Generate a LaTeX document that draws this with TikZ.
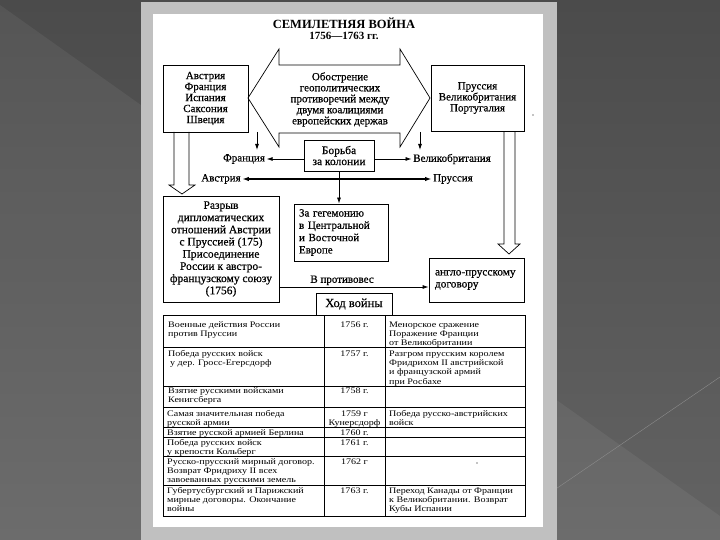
\documentclass[tikz,border=0pt]{standalone}
\usepackage{fontspec}
\setmainfont{Liberation Serif}
\newfontfamily\kastenfont[FakeBold=0.5]{Liberation Serif}
\newfontfamily\tabfont[FakeStretch=1.18]{Liberation Serif}
\usetikzlibrary{arrows.meta}
\definecolor{hgoben}{HTML}{4B4B4B}
\definecolor{hgunten}{HTML}{636363}
\definecolor{rahmen}{HTML}{C0C0C0}
\begin{document}
\begin{tikzpicture}[x=1pt, y=-1pt,
    kasten/.style={draw, line width=0.8pt, inner sep=0pt, align=center, font=\kastenfont\fontsize{11}{11}\selectfont},
    marke/.style={inner sep=1.5pt, font=\kastenfont\fontsize{11}{11}\selectfont},
    pfeil/.style={-{Latex[length=6pt,width=4pt]}, line width=0.8pt},
    linie/.style={line width=0.7pt},
    zelle/.style={anchor=north west, inner sep=0pt, align=left, font=\tabfont\fontsize{8.5}{9.3}\selectfont},
    jahr/.style={anchor=north, inner sep=0pt, align=center, font=\tabfont\fontsize{8.5}{9.3}\selectfont}]
    \useasboundingbox (0,0) rectangle (720,540);

    % Hintergrund
    \shade[top color=hgoben, bottom color=hgunten] (0,0) rectangle (720,540);
    \fill[white, opacity=0.06] (0,5) -- (720,516) -- (720,540) -- (0,540) -- cycle;
    \draw[black!45, line width=0.4pt] (500,527) -- (720,377);

    % Blatt
    \fill[rahmen] (141,2) rectangle (557,540);
    \fill[white] (153,14) rectangle (543,527);

    % Titel
    \node[font=\fontsize{12.5}{13}\selectfont\bfseries] (titel) at (344,23) {СЕМИЛЕТНЯЯ ВОЙНА};
    \node[font=\fontsize{11}{12}\selectfont\bfseries] (jahre) at (344,36) {1756---1763 гг.};

    % Koalitionen
    \node[kasten, minimum width=85, minimum height=67] (links) at (205.5,98.5) {Австрия\\Франция\\Испания\\Саксония\\Швеция};
    \node[kasten, minimum width=93, minimum height=66] (rechts) at (477.5,98) {Пруссия\\Великобритания\\Португалия};

    % Doppelpfeil
    \draw[linie] (248,98) -- (279,49) -- (279,65) -- (400,65) -- (400,49) -- (430,98)
        -- (400,147) -- (400,133) -- (279,133) -- (279,147) -- cycle;
    \node[marke, align=center] (zuspitzung) at (340,99.5) {Обострение\\геополитических\\противоречий между\\двумя коалициями\\европейских держав};

    % kleine Pfeile nach unten
    \coordinate (fA) at (257,132);
    \coordinate (fE) at (257,150);
    \coordinate (gA) at (420,132);
    \coordinate (gE) at (420,150);
    \draw[pfeil] (fA) -- (fE);
    \draw[pfeil] (gA) -- (gE);

    % Kolonien
    \node[kasten, font=\kastenfont\fontsize{11.5}{11}\selectfont, minimum width=70, minimum height=31] (kolonien) at (339,155.5) {Борьба\\за колонии};
    \node[marke] (frankreich) at (244,159) {Франция};
    \node[marke] (england) at (452,159) {Великобритания};
    \node[marke] (oesterreich) at (221,179) {Австрия};
    \node[marke] (preussen) at (453,179) {Пруссия};
    \draw[pfeil] (kolonien.west |- frankreich.east) -- (frankreich.east);
    \draw[pfeil] (kolonien.east |- england.west) -- (england.west);
    \draw[{Latex[length=6.5pt,width=4.5pt]}-{Latex[length=6.5pt,width=4.5pt]}, line width=1.3pt] (oesterreich.east) -- (preussen.west);

    % Hegemonie
    \node[kasten, align=left, text width=84, minimum width=94, minimum height=57, font=\kastenfont\fontsize{11}{12.3}\selectfont] (hegemonie) at (341,232.5) {За гегемонию\\в Центральной\\и Восточной\\Европе};
    \draw[pfeil] (kolonien.south) -- (kolonien.south |- hegemonie.north);

    % Hohlpfeile
    \draw[linie] (174,132) -- (174,185) -- (169,185) -- (182,194) -- (195,185) -- (189,185) -- (189,132);
    \draw[linie] (504,132) -- (504,244) -- (498,244) -- (509,254) -- (520,244) -- (515,244) -- (515,132);

    % Diplomatie
    \node[kasten, minimum width=116, minimum height=106, font=\kastenfont\fontsize{11.5}{12.2}\selectfont] (bruch) at (221,249) {Разрыв\\дипломатических\\отношений Австрии\\с Пруссией (175)\\Присоединение\\России к австро-\\французскому союзу\\(1756)};
    \node[kasten, align=left, text width=83, minimum width=95, minimum height=44, font=\kastenfont\fontsize{11.3}{12}\selectfont] (vertrag) at (476.5,280) {англо-прусскому\\договору};
    \coordinate (gp) at (300,287);
    \draw[pfeil] (bruch.east |- gp) -- (vertrag.west |- gp) node[pos=0.42, above, marke] {В противовес};

    % Ход войны
    \node[kasten, font=\kastenfont\fontsize{12.5}{13}\selectfont, minimum width=76, minimum height=22] (verlauf) at (354,304) {Ход войны};

    % Tabelle
    \draw[linie] (163,315) rectangle (525,516);
    \draw[linie] (324,315) -- (324,516);
    \draw[linie] (385,315) -- (385,516);
    \draw[linie] (163,347) -- (525,347);
    \draw[linie] (163,386) -- (525,386);
    \draw[linie] (163,407) -- (525,407);
    \draw[linie] (163,427) -- (525,427);
    \draw[linie] (163,437) -- (525,437);
    \draw[line width=1pt] (163,456) -- (525,456);
    \draw[line width=1pt] (163,485) -- (525,485);

    \node[zelle] (r1a) at (168,320.5) {\strut Военные действия России\\против Пруссии};
    \node[jahr] (r1b) at (354.5,320.5) {\strut 1756 г.};
    \node[zelle] (r1c) at (389,320.5) {\strut Менорское сражение\\Поражение Франции\\от Великобритании};

    \node[zelle] (r2a) at (168,349.5) {\strut Победа русских войск\\\hspace{2pt}у дер. Гросс-Егерсдорф};
    \node[jahr] (r2b) at (354.5,349.5) {\strut 1757 г.};
    \node[zelle] (r2c) at (389,349.5) {\strut Разгром прусским королем\\Фридрихом II австрийской\\и французской армий\\при Росбахе};

    \node[zelle] (r3a) at (168,386.5) {\strut Взятие русскими войсками\\Кенигсберга};
    \node[jahr] (r3b) at (354.5,386.5) {\strut 1758 г.};

    \node[zelle] (r4a) at (167,409.5) {\strut Самая значительная победа\\русской армии};
    \node[jahr] (r4b) at (354.5,409.5) {\strut 1759 г\\Кунерсдорф};
    \node[zelle] (r4c) at (389,409.5) {\strut Победа русско-австрийских\\войск};

    \node[zelle] (r5a) at (167,428.5) {\strut Взятие русской армией Берлина};
    \node[jahr] (r5b) at (354.5,428.5) {\strut 1760 г.};

    \node[zelle] (r6a) at (167,438.5) {\strut Победа русских войск\\у крепости Кольберг};
    \node[jahr] (r6b) at (354.5,438.5) {\strut 1761 г.};

    \node[zelle] (r7a) at (167,457.5) {\strut Русско-прусский мирный договор.\\Возврат Фридриху II всех\\завоеванных русскими земель};
    \node[jahr] (r7b) at (354.5,457.5) {\strut 1762 г};

    \node[zelle] (r8a) at (167,486.5) {\strut Губертусбургский и Парижский\\мирные договоры. Окончание\\войны};
    \node[jahr] (r8b) at (354.5,486.5) {\strut 1763 г.};
    \node[zelle] (r8c) at (389,486.5) {\strut Переход Канады от Франции\\к Великобритании. Возврат\\Кубы Испании};

    % Punkte
    \fill (533,115) circle (0.7);
    \fill (477,463) circle (0.7);
\end{tikzpicture}
\end{document}
